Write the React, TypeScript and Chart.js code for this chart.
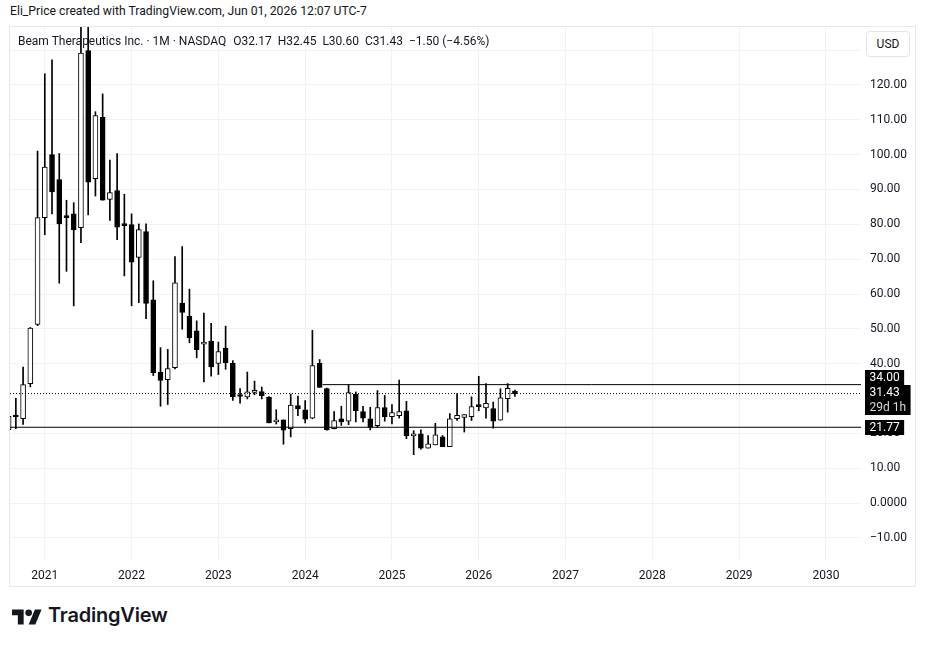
import React, { useEffect, useRef } from 'react';
import { Chart, registerables } from 'chart.js';

Chart.register(...registerables);

// ---- data (monthly candles, BEAM) ----
const months = [
  '2020-08', '2020-09', '2020-10', '2020-11', '2020-12',
  '2021-01', '2021-02', '2021-03', '2021-04', '2021-05', '2021-06', '2021-07', '2021-08', '2021-09', '2021-10', '2021-11', '2021-12',
  '2022-01', '2022-02', '2022-03', '2022-04', '2022-05', '2022-06', '2022-07', '2022-08', '2022-09', '2022-10', '2022-11', '2022-12',
  '2023-01', '2023-02', '2023-03', '2023-04', '2023-05', '2023-06', '2023-07', '2023-08', '2023-09', '2023-10', '2023-11', '2023-12',
  '2024-01', '2024-02', '2024-03', '2024-04', '2024-05', '2024-06', '2024-07', '2024-08', '2024-09', '2024-10', '2024-11', '2024-12',
  '2025-01', '2025-02', '2025-03', '2025-04', '2025-05', '2025-06', '2025-07', '2025-08', '2025-09', '2025-10', '2025-11', '2025-12',
  '2026-01', '2026-02', '2026-03', '2026-04', '2026-05', '2026-06',
];
const opens = [
  21.1, 24.9, 24.2, 34.3, 51.3,
  81.9, 100.0, 92.8, 82.3, 83.0, 79.0, 129.8, 93.1, 110.7, 87.1, 89.7, 80.0,
  79.9, 70.5, 77.9, 58.3, 37.6, 35.4, 38.9, 57.4, 53.7, 49.4, 45.6, 46.5,
  40.1, 44.5, 40.1, 30.8, 30.5, 31.8, 32.0, 30.4, 23.3, 23.9, 21.4, 28.0,
  26.8, 24.4, 40.1, 32.9, 21.4, 24.2, 23.5, 31.3, 26.3, 24.2, 22.2, 27.4,
  24.8, 25.1, 26.5, 19.3, 19.9, 15.8, 16.7, 19.0, 16.2, 24.2, 24.6, 24.8,
  27.9, 27.3, 27.1, 23.8, 30.0, 32.17,
];
const highs = [
  25.0, 30.1, 39.0, 50.4, 101.0,
  123.2, 127.2, 100.3, 86.9, 86.2, 140.0, 140.0, 112.3, 117.4, 98.4, 100.3, 88.6,
  83.0, 80.1, 80.1, 63.8, 44.6, 44.1, 70.7, 73.6, 61.4, 52.3, 54.5, 51.6,
  46.2, 50.8, 40.9, 32.9, 37.6, 35.0, 33.3, 30.6, 26.8, 23.9, 31.3, 30.7,
  29.4, 49.6, 41.2, 33.0, 26.3, 27.8, 34.0, 31.9, 27.8, 27.5, 32.3, 30.9,
  28.3, 35.3, 29.2, 20.8, 21.0, 19.4, 22.9, 19.4, 25.7, 31.4, 25.4, 30.5,
  36.4, 34.3, 29.0, 32.8, 34.3, 32.45,
];
const lows = [
  20.8, 21.4, 22.6, 33.4, 50.9,
  77.0, 83.0, 63.1, 66.5, 56.6, 74.7, 82.7, 88.1, 86.9, 81.1, 75.6, 65.2,
  56.6, 57.5, 52.9, 36.6, 27.8, 28.3, 38.5, 49.9, 46.0, 41.7, 34.8, 36.4,
  36.9, 38.4, 29.5, 28.7, 29.9, 31.1, 29.9, 23.0, 22.7, 16.9, 19.0, 25.1,
  23.0, 24.2, 33.2, 20.9, 21.3, 22.3, 22.5, 23.3, 23.3, 21.0, 21.7, 23.5,
  22.7, 24.4, 18.5, 13.9, 15.5, 15.8, 16.7, 16.2, 16.2, 23.7, 20.4, 23.7,
  26.5, 24.4, 21.5, 23.8, 26.1, 30.60,
];
const closes = [
  24.9, 24.7, 34.0, 50.2, 81.9,
  96.4, 89.3, 80.1, 81.9, 78.4, 129.1, 92.1, 111.2, 86.9, 89.1, 79.2, 79.6,
  69.1, 78.5, 57.3, 37.4, 35.2, 38.6, 63.2, 54.7, 47.5, 44.0, 46.2, 39.1,
  43.5, 40.3, 30.5, 30.6, 31.9, 32.0, 30.8, 23.0, 23.9, 20.9, 28.1, 27.0,
  24.1, 39.5, 33.2, 21.0, 23.7, 23.3, 31.7, 26.5, 24.4, 21.7, 27.4, 24.8,
  26.0, 26.3, 19.3, 19.9, 15.8, 17.0, 19.6, 16.2, 24.2, 25.2, 25.4, 27.7,
  27.7, 28.6, 23.5, 30.2, 32.93, 31.43,
];

const yearLabels = ['2021', '2022', '2023', '2024', '2025', '2026', '2027', '2028', '2029', '2030'];
const priceTicks = [-10, 0, 10, 20, 30, 40, 50, 60, 70, 80, 90, 100, 110, 120, 130];

const resistanceLevel = 34.0;
const resistanceFrom = '2024-03';
const supportLevel = 21.77;
const countdownText = '29d 1h';

// ---- helpers ----
const monthIndex = (m: string) => {
  const [y, mo] = m.split('-').map(Number);
  return (y - 2021) * 12 + (mo - 1);
};
const X_MIN = -4.81;
const X_MAX = 112.85;
const Y_MIN = -16.6;
const Y_MAX = 136.6;

const fmtPrice = (v: number) => {
  if (v === 0) return '0.0000';
  if (v < 0) return '\u2212' + Math.abs(v).toFixed(2);
  return v.toFixed(2);
};
const FONT = 'Roboto, "Liberation Sans", sans-serif';
const TEXT = '#131722';

const tagPlugin = {
  id: 'priceTags',
  afterDraw(chart: any) {
    const ctx = chart.ctx;
    const ys = chart.scales.y;
    const area = chart.chartArea;
    const last = closes[closes.length - 1];
    const tags = [
      { v: resistanceLevel, lines: [fmtPrice(resistanceLevel)] },
      { v: last, lines: [fmtPrice(last), countdownText] },
      { v: supportLevel, lines: [fmtPrice(supportLevel)] },
    ].map((t) => {
      const h = 15 * t.lines.length;
      const c = ys.getPixelForValue(t.v);
      return { ...t, h, top: c - h / 2 };
    });
    tags.sort((a, b) => a.top - b.top);
    for (let k = 0; k < 5; k++) {
      for (let i = 0; i < tags.length - 1; i++) {
        const a = tags[i], b = tags[i + 1];
        const ov = a.top + a.h - b.top;
        if (ov > 0) {
          a.top -= ov / 2;
          b.top += ov / 2;
        }
      }
    }
    ctx.save();
    ctx.font = `12px ${FONT}`;
    ctx.textBaseline = 'middle';
    ctx.textAlign = 'left';
    tags.forEach((t) => {
      const w = Math.max(...t.lines.map((s) => ctx.measureText(s).width)) + 9;
      const left = area.right + 4;
      ctx.fillStyle = '#000';
      ctx.fillRect(left, Math.round(t.top), w, t.h);
      t.lines.forEach((s, i) => {
        ctx.fillStyle = i === 0 ? '#ffffff' : '#d6d6d6';
        ctx.fillText(s, left + 4.5, Math.round(t.top) + 7.5 + 15 * i + 0.5);
      });
    });
    ctx.restore();
  },
};

export default function App() {
  const ref = useRef<HTMLCanvasElement | null>(null);

  useEffect(() => {
    if (!ref.current) return;
    const xs = months.map(monthIndex);
    const wicks = xs.map((x, i) => ({ x, y: [lows[i], highs[i]] }));
    const bodies = xs.map((x, i) => ({ x, y: [opens[i], closes[i]] }));
    const bodyFill = xs.map((_, i) => (closes[i] >= opens[i] ? '#ffffff' : '#000000'));
    const lastClose = closes[closes.length - 1];

    const chart = new Chart(ref.current, {
      type: 'bar',
      data: {
        datasets: [
          {
            type: 'line',
            data: [{ x: monthIndex(resistanceFrom) + 0.4, y: resistanceLevel }, { x: X_MAX, y: resistanceLevel }],
            borderColor: '#000',
            borderWidth: 1,
            pointRadius: 0,
            order: 0,
          } as any,
          {
            type: 'line',
            data: [{ x: X_MIN, y: supportLevel }, { x: X_MAX, y: supportLevel }],
            borderColor: '#000',
            borderWidth: 1,
            pointRadius: 0,
            order: 0,
          } as any,
          {
            type: 'line',
            data: [{ x: X_MIN, y: lastClose }, { x: X_MAX, y: lastClose }],
            borderColor: '#000',
            borderWidth: 1,
            borderDash: [1, 2],
            pointRadius: 0,
            order: 0,
          } as any,
          {
            type: 'bar',
            data: bodies as any,
            backgroundColor: bodyFill,
            borderColor: '#000',
            borderWidth: 1,
            borderSkipped: false,
            barThickness: 5,
            minBarLength: 2,
            grouped: false,
            order: 1,
          } as any,
          {
            type: 'bar',
            data: wicks as any,
            backgroundColor: '#000',
            borderWidth: 0,
            barThickness: 1,
            minBarLength: 1,
            grouped: false,
            order: 2,
          } as any,
        ],
      },
      options: {
        animation: false,
        responsive: false,
        maintainAspectRatio: false,
        layout: { padding: 0 },
        plugins: {
          legend: { display: false },
          tooltip: { enabled: false },
        },
        scales: {
          x: {
            type: 'linear',
            min: X_MIN,
            max: X_MAX,
            offset: false,
            afterBuildTicks: (s: any) => {
              s.ticks = yearLabels.map((y) => ({ value: (Number(y) - 2021) * 12 }));
            },
            afterFit: (s: any) => {
              s.height = 25;
              s.paddingLeft = 0;
              s.paddingRight = 0;
              s.paddingTop = 0;
              s.paddingBottom = 0;
            },
            ticks: {
              autoSkip: false,
              maxRotation: 0,
              padding: 8,
              color: TEXT,
              font: { family: FONT, size: 12 },
              callback: (v: any) => String(2021 + Math.round(Number(v) / 12)),
            },
            grid: { color: '#f2f2f2', drawTicks: false, offset: false },
            border: { display: false },
          },
          y: {
            type: 'linear',
            position: 'right',
            min: Y_MIN,
            max: Y_MAX,
            beginAtZero: false,
            afterBuildTicks: (s: any) => {
              s.ticks = priceTicks.map((v) => ({ value: v }));
            },
            afterFit: (s: any) => {
              s.width = 54;
              s.paddingLeft = 0;
              s.paddingRight = 0;
              s.paddingTop = 0;
              s.paddingBottom = 0;
            },
            ticks: {
              padding: 9,
              color: TEXT,
              font: { family: FONT, size: 12 },
              callback: (v: any) => fmtPrice(Number(v)),
            },
            grid: { color: '#f2f2f2', drawTicks: false },
            border: { display: false },
          },
        },
      } as any,
      plugins: [tagPlugin],
    });
    return () => chart.destroy();
  }, []);

  const n = closes.length - 1;
  const chg = closes[n] - closes[n - 1];
  const pct = (chg / closes[n - 1]) * 100;
  const sgn = (v: number) => (v < 0 ? '\u2212' : '+') + Math.abs(v).toFixed(2);

  return (
    <div style={{ position: 'absolute', left: 0, top: 0, width: 925, height: 647, background: '#fff', fontFamily: FONT, color: TEXT }}>
      <div style={{ position: 'absolute', left: 10, top: 4, fontSize: 12.2, lineHeight: '15px', whiteSpace: 'nowrap', color: '#131722' }}>
        Eli_Price created with TradingView.com, Jun 01, 2026 12:07 UTC-7
      </div>
      <div style={{ position: 'absolute', left: 9, top: 26, width: 907, height: 561, boxSizing: 'border-box', border: '1px solid #e8e8e8' }} />
      <canvas ref={ref} width={905} height={559} style={{ position: 'absolute', left: 10, top: 27, width: 905, height: 559 }} />
      <div style={{ position: 'absolute', left: 18, top: 34, fontSize: 12, lineHeight: '15px', whiteSpace: 'nowrap' }}>
        <span>Beam Therapeutics Inc. · 1M · NASDAQ</span>
        <span style={{ marginLeft: 7 }}>O{opens[n].toFixed(2)}</span>
        <span style={{ marginLeft: 6 }}>H{highs[n].toFixed(2)}</span>
        <span style={{ marginLeft: 6 }}>L{lows[n].toFixed(2)}</span>
        <span style={{ marginLeft: 6 }}>C{closes[n].toFixed(2)}</span>
        <span style={{ marginLeft: 6 }}>{sgn(chg)} ({sgn(pct)}%)</span>
      </div>
      <div style={{ position: 'absolute', left: 866, top: 31, width: 44, height: 26, boxSizing: 'border-box', border: '1px solid #e0e3eb', borderRadius: 4, background: '#fff', fontSize: 12, lineHeight: '24px', textAlign: 'center' }}>
        USD
      </div>
      <svg style={{ position: 'absolute', left: 12, top: 606 }} width={30} height={22} viewBox="0 0 36 26">
        <path d="M14 22H7V11H0V4h14v18zM28 22h-8l7.5-18h8L28 22z" fill="#131722" />
        <circle cx="20" cy="8" r="4" fill="#131722" />
      </svg>
      <div style={{ position: 'absolute', left: 48, top: 603, fontFamily: 'Inter, Roboto, sans-serif', fontWeight: 600, fontSize: 20, lineHeight: '24px', letterSpacing: -0.2, color: '#131722' }}>
        TradingView
      </div>
    </div>
  );
}
